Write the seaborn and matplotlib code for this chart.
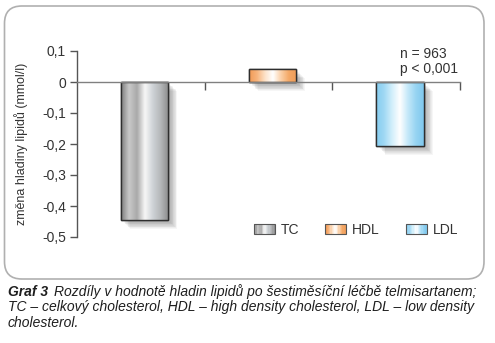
import numpy as np
import pandas as pd
import matplotlib
matplotlib.use("Agg")
import matplotlib.pyplot as plt
import seaborn as sns
from matplotlib.patches import FancyBboxPatch, Rectangle
from matplotlib.colors import LinearSegmentedColormap
import matplotlib.patheffects as pe
from matplotlib.legend_handler import HandlerBase

# ---- data ----
categories = ["TC", "HDL", "LDL"]
values = [-0.445, 0.041, -0.205]
yticks = [0.1, 0.0, -0.1, -0.2, -0.3, -0.4, -0.5]
ytick_labels = ["0,1", "0", "-0,1", "-0,2", "-0,3", "-0,4", "-0,5"]
ylabel = "změna hladiny lipidů (mmol/l)"
note = "n = 963\np < 0,001"
caption_bold = "Graf 3"
caption_rest = ["Rozdíly v hodnotě hladin lipidů po šestiměsíční léčbě telmisartanem;",
                "TC – celkový cholesterol, HDL – high density cholesterol, LDL – low density",
                "cholesterol."]

# gradient stops per bar (left -> right)
grad_stops = {
    "TC": ["#7c7c7c", "#c9c9c9", "#a9a9a9", "#f7f7f7", "#ced2d6", "#b4b6b8", "#8a8a8a"],
    "HDL": ["#f29a55", "#f7b47c", "#fde2c8", "#ffffff", "#fbd0a8", "#f4a866", "#ef9c58"],
    "LDL": ["#86cdf0", "#9fd8f4", "#d2effb", "#ffffff", "#c4e8f9", "#97d4f2", "#7fc8ee"],
}
legend_face = {"TC": "#d6d6d6", "HDL": "#f8c496", "LDL": "#bfe6f8"}

sns.set_theme(style="white")
plt.rcParams["font.family"] = ["Liberation Sans", "DejaVu Sans"]
text_color = "#333333"
FS = 10

W, H = 495, 343
fig = plt.figure(figsize=(W / 100, H / 100), dpi=100)

# rounded panel
panel = FancyBboxPatch((4.5 / W, 1 - 279 / H), (484 - 4.5) / W, (279 - 6) / H,
                       boxstyle="round,pad=0,rounding_size=0.035",
                       transform=fig.transFigure, facecolor="white",
                       edgecolor="#b0b0b0", linewidth=1.2, mutation_aspect=W / H,
                       zorder=-5)
fig.patches.append(panel)

ax = fig.add_axes([77 / W, 1 - 237 / H, (460 - 77) / W, (237 - 51) / H])
ax.patch.set_visible(False)

df = pd.DataFrame({"cat": categories, "val": values})
sns.barplot(data=df, x="cat", y="val", ax=ax, width=0.37, color="#cccccc",
            edgecolor="#2e2e2e", linewidth=1.0, zorder=3)

xlo, xhi = -0.53, 2.47
ax.set_xlim(xlo, xhi)
ax.set_ylim(-0.5, 0.1)

# gradients and soft shadows on bars
shadow_effects = []
for i in range(1, 10):
    shadow_effects.append(pe.SimplePatchShadow(offset=(1.5 + 0.55 * i, -1.5 - 0.55 * i),
                                               shadow_rgbFace="#505050", alpha=0.05))
shadow_effects.append(pe.Normal())

for patch, cat in zip(list(ax.patches), categories):
    patch.set_path_effects(shadow_effects)
    x0, y0 = patch.get_x(), patch.get_y()
    w, h = patch.get_width(), patch.get_height()
    cmap = LinearSegmentedColormap.from_list(cat, grad_stops[cat])
    grad = np.linspace(0, 1, 256).reshape(1, -1)
    ylo, yhi = min(y0, y0 + h), max(y0, y0 + h)
    im = ax.imshow(grad, cmap=cmap, aspect="auto", extent=(x0, x0 + w, ylo, yhi),
                   zorder=3.5, interpolation="bicubic")
    im.set_clip_path(patch)
    edge = Rectangle((x0, y0), w, h, fill=False, edgecolor="#2e2e2e", linewidth=1.0, zorder=4)
    ax.add_patch(edge)

ax.set_xlim(xlo, xhi)
ax.set_ylim(-0.5, 0.1)

# axes styling
for s in ["top", "right"]:
    ax.spines[s].set_visible(False)
ax.spines["left"].set_color("#555555")
ax.spines["left"].set_linewidth(1.0)
ax.spines["bottom"].set_position(("data", 0))
ax.spines["bottom"].set_color("#808080")
ax.spines["bottom"].set_linewidth(1.0)
ax.spines["bottom"].set_zorder(5)

ax.set_yticks(yticks)
ax.set_yticklabels(ytick_labels)
ax.set_xticks([xlo + 1, xlo + 2, xlo + 3])
ax.set_xticklabels([])
ax.tick_params(axis="y", direction="out", length=5, width=1.0, color="#555555",
               labelsize=FS, labelcolor=text_color, pad=3, left=True)
ax.tick_params(axis="x", direction="out", length=6, width=1.0, color="#555555", bottom=True)
ax.set_xlabel("")
ax.set_ylabel(ylabel, fontsize=9, color=text_color)
ax.yaxis.set_label_coords((28 - 77) / (460 - 77), (237 - 144) / (237 - 51))

fig.text(400 / W, 1 - 46.5 / H, note, fontsize=FS,
         color=text_color, ha="left", va="top", linespacing=1.1)


# legend with gradient swatches
class GradHandler(HandlerBase):
    def __init__(self, stops, **kw):
        super().__init__(**kw)
        self.stops = stops

    def create_artists(self, legend, orig_handle, xdescent, ydescent, width, height, fontsize, trans):
        artists = []
        n = 16
        cmap = LinearSegmentedColormap.from_list("h", self.stops)
        for k in range(n):
            r = Rectangle((-xdescent + width * k / n, -ydescent), width / n + 0.2, height,
                          facecolor=cmap((k + 0.5) / n), edgecolor="none", transform=trans)
            artists.append(r)
        border = Rectangle((-xdescent, -ydescent), width, height, fill=False,
                           edgecolor="#555555", linewidth=0.8, transform=trans)
        artists.append(border)
        return artists


handles = [Rectangle((0, 0), 1, 1, facecolor=legend_face[c]) for c in categories]
handler_map = {h: GradHandler(grad_stops[c]) for h, c in zip(handles, categories)}
leg = fig.legend(handles, categories, handler_map=handler_map, ncol=3, frameon=False,
                 loc="center left", bbox_to_anchor=(254 / W, 1 - 230 / H),
                 borderaxespad=0, borderpad=0,
                 fontsize=FS, handlelength=1.5, handleheight=0.72, handletextpad=0.45,
                 columnspacing=1.85, labelcolor=text_color)

# caption
cap_font = dict(fontsize=10, fontstyle="italic", color="#1e1e1e", va="center", ha="left",
                family=["Liberation Sans", "DejaVu Sans"])
y1 = 1 - 292 / H
t = fig.text(8 / W, y1, caption_bold, fontweight="bold", **cap_font)
fig.canvas.draw()
bb = t.get_window_extent()
fig.text((bb.x1 + 6) / W, y1, caption_rest[0], **cap_font)
fig.text(8 / W, 1 - 307.5 / H, caption_rest[1], **cap_font)
fig.text(8 / W, 1 - 323 / H, caption_rest[2], **cap_font)

fig.savefig("out.png", dpi=100)
